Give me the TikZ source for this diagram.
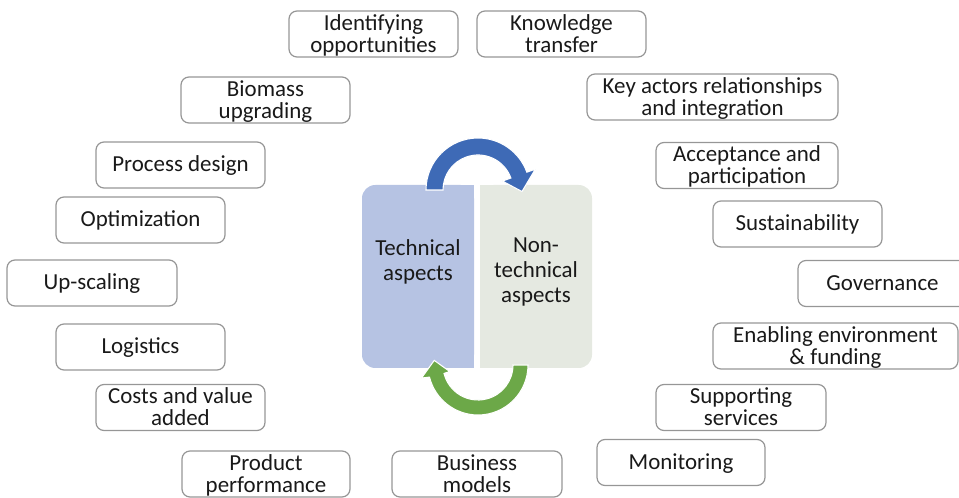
\documentclass[tikz,border=0pt]{standalone}
\usepackage{fontspec}
\setmainfont{Carlito}
\usepackage{tikz}
\usetikzlibrary{positioning}

\newcommand{\boxstrut}{\rule[-3.5pt]{0pt}{17pt}}
\newcommand{\tallstrut}{\rule[-3.5pt]{0pt}{34.3pt}}

\begin{document}
\begin{tikzpicture}[
    x=0.75pt, y=-0.75pt,
    aspect/.style={rectangle, draw=boxgray, line width=0.9pt, rounded corners=6pt, inner xsep=0pt, inner ysep=-4pt, minimum height=34.5pt, align=center, text=textdark, font=\fontsize{17.2}{16.5}\selectfont, execute at begin node=\boxstrut},
    two/.style={execute at begin node=\tallstrut},
    bw/.style={minimum width=#1*0.75pt},
    panel/.style={align=center, text=textdark, font=\fontsize{17.2}{18.4}\selectfont},
    cycle/.style={draw=white, line width=0.8pt}
]

% Define colors
\definecolor{boxgray}{RGB}{150,150,150}
\definecolor{textdark}{RGB}{25,25,25}
\definecolor{techcolor}{RGB}{182,195,227}     % Lavender blue
\definecolor{nontechcolor}{RGB}{229,233,225}  % Pale grey green
\definecolor{bluearrow}{RGB}{62,106,182}
\definecolor{greenarrow}{RGB}{108,168,72}

\useasboundingbox (0,0) rectangle (959,498);

% Central panels
\fill[techcolor, rounded corners=10pt] (362,185) rectangle (474,368);
\fill[techcolor] (430,185) rectangle (474,368);
\fill[nontechcolor, rounded corners=10pt] (480,185) rectangle (592,368);
\fill[nontechcolor] (480,185) rectangle (520,368);

% Cycle arrows
\coordinate (bc) at (478,190);
\coordinate (gc) at (478,365);
\fill[bluearrow, cycle] ([shift={(-180:52)}]bc) arc[start angle=-180, end angle=-20, radius=52]
    -- ([shift={(-20:61)}]bc) -- ([shift={(2:44)}]bc) -- ([shift={(-20:26)}]bc)
    -- ([shift={(-20:35)}]bc) arc[start angle=-20, end angle=-180, radius=35] -- cycle;
\fill[greenarrow, cycle] ([shift={(0:50)}]gc) arc[start angle=0, end angle=166, radius=50]
    -- ([shift={(167:58)}]gc) -- ([shift={(186:44)}]gc) -- ([shift={(167:29)}]gc)
    -- ([shift={(166:35)}]gc) arc[start angle=166, end angle=0, radius=35] -- cycle;

\node[panel] (tech) at (418,262) {Technical\\aspects};
\node[panel] (nontech) at (536,272) {Non-\\technical\\aspects};

% Left side - technical aspects
\node[aspect, two, bw=169] (identify) at (373.5,34) {Identifying\\opportunities};
\node[aspect, two, bw=169] (biomass) at (265.5,100) {Biomass\\upgrading};
\node[aspect, bw=169] (process) at (180.5,165) {Process design};
\node[aspect, bw=169] (optim) at (140.5,220) {Optimization};
\node[aspect, bw=170] (upscale) at (92,283) {Up-scaling};
\node[aspect, bw=169] (logist) at (140.5,347) {Logistics};
\node[aspect, two, bw=169] (costs) at (180.5,407.5) {Costs and value\\added};
\node[aspect, two, bw=168] (product) at (266,474) {Product\\performance};
\node[aspect, two, bw=170] (business) at (477,474) {Business\\models};

% Right side - non-technical aspects
\node[aspect, two, bw=169] (knowledge) at (561.5,34) {Knowledge\\transfer};
\node[aspect, two, bw=251] (actors) at (712.5,97) {Key actors relationships\\and integration};
\node[aspect, two, bw=182] (accept) at (747,165.5) {Acceptance and\\participation};
\node[aspect, bw=169] (sustain) at (797.5,224) {Sustainability};
\node[aspect, bw=169] (govern) at (882.5,283.5) {Governance};
\node[aspect, two, bw=245] (enabling) at (835.5,346) {Enabling environment\\\& funding};
\node[aspect, two, bw=170] (support) at (741,407.5) {Supporting\\services};
\node[aspect, bw=168] (monitor) at (681,462.5) {Monitoring};

\end{tikzpicture}
\end{document}
